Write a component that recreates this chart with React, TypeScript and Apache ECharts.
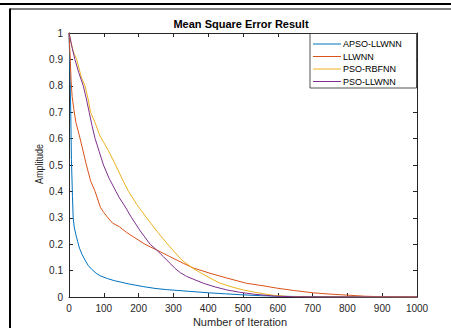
import React, { useEffect, useRef } from "react";
import * as echarts from "echarts";

const seriesNames = ["APSO-LLWNN", "LLWNN", "PSO-RBFNN", "PSO-LLWNN"];
const seriesColors = ["#0072BD", "#D95319", "#EDB120", "#7E2F8E"];

const apsoIter = [0, 3, 5, 7, 10, 12, 15, 20, 25, 30, 38, 46, 55, 65, 78, 90, 110, 130, 150, 170, 190, 215, 250, 280, 310, 350, 400, 450, 500, 550, 600, 650, 700, 800, 900, 1000];
const apsoVal = [1.0, 0.85, 0.7, 0.52, 0.38, 0.3, 0.265, 0.235, 0.21, 0.185, 0.16, 0.14, 0.12, 0.105, 0.09, 0.08, 0.07, 0.062, 0.056, 0.05, 0.045, 0.039, 0.032, 0.028, 0.025, 0.021, 0.016, 0.012, 0.008, 0.005, 0.003, 0.002, 0.0012, 0.0005, 0.0002, 0.0001];

const llwnnIter = [0, 3, 6, 9, 14, 20, 30, 41, 50, 62, 75, 90, 100, 112, 125, 145, 165, 185, 218, 252, 290, 328, 357, 405, 453, 510, 560, 600, 650, 700, 750, 800, 850, 900, 1000];
const llwnnVal = [1.0, 0.92, 0.82, 0.76, 0.71, 0.66, 0.61, 0.55, 0.5, 0.44, 0.4, 0.34, 0.32, 0.3, 0.28, 0.266, 0.245, 0.228, 0.2, 0.178, 0.153, 0.128, 0.11, 0.09, 0.072, 0.052, 0.042, 0.033, 0.024, 0.016, 0.011, 0.007, 0.003, 0.001, 0.0003];

const rbfIter = [0, 5, 12, 22, 30, 36, 46, 55, 62, 75, 89, 100, 113, 132, 150, 171, 195, 223, 255, 290, 324, 357, 380, 405, 434, 471, 500, 530, 560, 590, 630, 700, 850, 1000];
const rbfVal = [1.0, 0.97, 0.93, 0.9, 0.86, 0.83, 0.8, 0.75, 0.7, 0.66, 0.61, 0.585, 0.555, 0.505, 0.455, 0.4, 0.35, 0.3, 0.245, 0.19, 0.14, 0.108, 0.09, 0.072, 0.052, 0.037, 0.027, 0.019, 0.012, 0.006, 0.002, 0.0008, 0.0003, 0.0001];

const psoIter = [0, 8, 17, 28, 41, 50, 58, 66, 75, 87, 99, 115, 135, 145, 160, 180, 205, 233, 252, 271, 290, 305, 320, 338, 386, 420, 453, 490, 529, 593, 650, 800, 1000];
const psoVal = [1.0, 0.95, 0.9, 0.85, 0.8, 0.75, 0.7, 0.65, 0.6, 0.55, 0.5, 0.45, 0.4, 0.375, 0.345, 0.3, 0.25, 0.2, 0.178, 0.153, 0.128, 0.108, 0.092, 0.078, 0.052, 0.038, 0.027, 0.018, 0.011, 0.003, 0.001, 0.0003, 0.0001];

const allIters = [apsoIter, llwnnIter, rbfIter, psoIter];
const allVals = [apsoVal, llwnnVal, rbfVal, psoVal];

const FONT = "Liberation Sans";
const AX = "#262626";

export default function App() {
  const ref = useRef<HTMLDivElement>(null);
  useEffect(() => {
    if (!ref.current) return;
    const chart = echarts.init(ref.current, undefined, { renderer: "svg" });
    const axisCommon = {
      type: "value" as const,
      axisLine: { show: true, onZero: false, lineStyle: { color: AX, width: 1 } },
      axisTick: { show: true, inside: true, length: 4, lineStyle: { color: AX } },
      splitLine: { show: false },
    };
    chart.setOption({
      animation: false,
      backgroundColor: "#ffffff",
      grid: { left: 69, right: 34, top: 33, bottom: 31, containLabel: false },
      xAxis: [
        { ...axisCommon, min: 0, max: 1000, interval: 100, position: "bottom",
          axisLabel: { color: AX, fontFamily: FONT, fontSize: 10, margin: 6, formatter: (v: number) => String(v) } },
        { ...axisCommon, min: 0, max: 1000, interval: 100, position: "top", axisLabel: { show: false } },
      ],
      yAxis: [
        { ...axisCommon, min: 0, max: 1, interval: 0.1, position: "left",
          axisLabel: { color: AX, fontFamily: FONT, fontSize: 10, margin: 6 } },
        { ...axisCommon, min: 0, max: 1, interval: 0.1, position: "right", axisLabel: { show: false } },
      ],
      legend: {
        left: 310,
        top: 39,
        z: 20,
        orient: "vertical",
        icon: "rect",
        itemWidth: 28,
        itemHeight: 1,
        itemGap: 2.5,
        padding: [0, 0, 0, 3],
        textStyle: { fontFamily: FONT, fontSize: 9, lineHeight: 10, color: "#000", padding: [0, 0, 0, -3] },
        data: seriesNames,
      },
      graphic: [
        { type: "line", shape: { x1: 0, y1: 4, x2: 451, y2: 4 }, style: { stroke: "#000", lineWidth: 2 } },
        { type: "line", shape: { x1: 10, y1: 9, x2: 451, y2: 9 }, style: { stroke: "#000", lineWidth: 1 } },
        { type: "line", shape: { x1: 10, y1: 8.5, x2: 10, y2: 328 }, style: { stroke: "#000", lineWidth: 2 } },
        { type: "rect", z: 1, shape: { x: 310, y: 33.5, width: 106.5, height: 54.5 }, style: { fill: "#fff", stroke: AX, lineWidth: 0.8 } },
        { type: "text", x: 241, y: 24, style: { text: "Mean Square Error Result", font: `bold 11px "${FONT}"`, fill: "#000", textAlign: "center", textVerticalAlign: "middle" } },
        { type: "text", x: 240, y: 322, style: { text: "Number of Iteration", font: `11px "${FONT}"`, fill: AX, textAlign: "center", textVerticalAlign: "middle" } },
        { type: "text", x: 39, y: 164, rotation: Math.PI / 2, scaleX: 0.82, style: { text: "Amplitude", font: `11px "${FONT}"`, fill: AX, textAlign: "center", textVerticalAlign: "middle" } },
      ],
      series: seriesNames.map((name, i) => ({
        name,
        type: "line",
        xAxisIndex: 0,
        yAxisIndex: 0,
        symbol: "none",
        lineStyle: { color: seriesColors[i], width: 1 },
        itemStyle: { color: seriesColors[i] },
        data: allIters[i].map((x, j) => [x, allVals[i][j]]),
      })),
    });
    return () => chart.dispose();
  }, []);
  return <div ref={ref} style={{ position: "fixed", left: 0, top: 0, width: 451, height: 328 }} />;
}
